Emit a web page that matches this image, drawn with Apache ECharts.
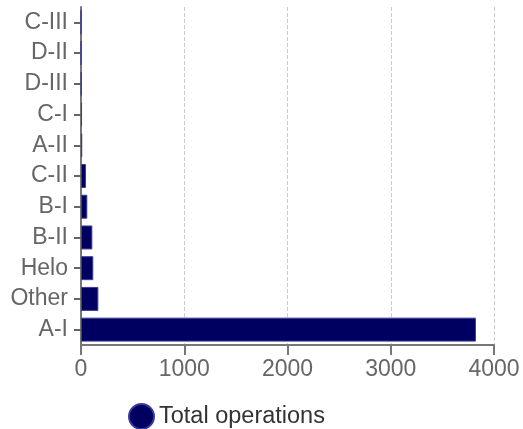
<!DOCTYPE html>
<html><head><meta charset="utf-8">
<script src="https://cdn.jsdelivr.net/npm/echarts@6/dist/echarts.min.js"></script>
<style>html,body{margin:0;padding:0;background:#fff}#c{width:523px;height:429px}</style>
</head><body><div id="c"></div>
<script>
const categories = ['A-I','Other','Helo','B-II','B-I','C-II','A-II','C-I','D-III','D-II','C-III'];
const totalOperations = [3825, 168, 119, 110, 61, 48, 12, 10, 4, 1, 1];
const xTicks = [0, 1000, 2000, 3000, 4000];
const FONT = 'Liberation Sans, Arial, sans-serif';
const chart = echarts.init(document.getElementById('c'));
chart.setOption({
  animation: false,
  grid: {left: 81, right: 29, top: 7, bottom: 84, containLabel: false},
  legend: {
    top: 398, left: 123, itemWidth: 25, itemHeight: 25, icon: 'circle', itemGap: 10,
    textStyle: {fontSize: 23.5, color: '#333', fontFamily: FONT},
    data: ['Total operations']
  },
  xAxis: {
    type: 'value', min: xTicks[0], max: xTicks[xTicks.length-1], interval: 1000,
    axisLine: {show: true, lineStyle: {color: '#777', width: 2}},
    axisTick: {show: true, length: 10, lineStyle: {color: '#777', width: 2}},
    axisLabel: {fontSize: 23, color: '#666', margin: 13, fontFamily: FONT, formatter: v => String(v)},
    splitLine: {show: true, lineStyle: {type: 'dashed', color: '#ccc', width: 1}}
  },
  yAxis: {
    type: 'category', data: categories,
    axisLine: {show: true, lineStyle: {color: '#777', width: 2}},
    axisTick: {show: true, length: 7, alignWithLabel: true, lineStyle: {color: '#666', width: 2}},
    axisLabel: {fontSize: 23, color: '#666', margin: 13, fontFamily: FONT}
  },
  series: [{
    name: 'Total operations', type: 'bar', data: totalOperations,
    barCategoryGap: '22%',
    itemStyle: {color: '#000060', borderColor: '#3a3a9a', borderWidth: 1}
  }]
});
</script></body></html>
